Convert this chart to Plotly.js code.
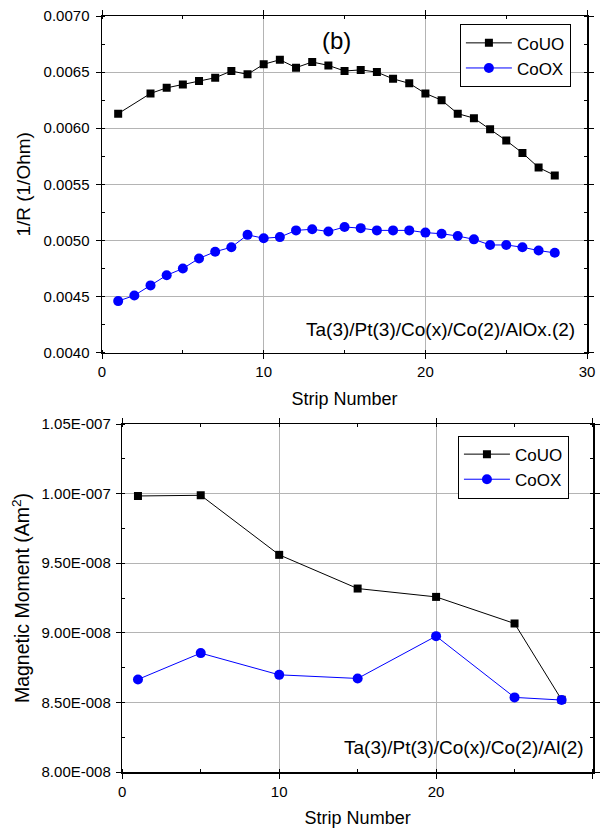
<!DOCTYPE html>
<html>
<head>
<meta charset="utf-8">
<script src="https://cdn.plot.ly/plotly-3.0.1.min.js"></script>
<style>html,body{margin:0;padding:0;background:#fff;}#chart{width:600px;height:832px;}</style>
</head>
<body>
<div id="chart"></div>
<script>
// Top panel (b): 1/R vs strip number
const stripUO = [1,3,4,5,6,7,8,9,10,11,12,13,14,15,16,17,18,19,20,21,22,23,24,25,26,27,28];
const invR_UO = [0.00613,0.00631,0.00636,0.00639,0.00642,0.00645,0.00651,0.00648,0.00657,0.00661,0.00654,0.00659,0.00656,0.00651,0.00652,0.00650,0.00644,0.00640,0.00631,0.00625,0.00613,0.00609,0.00599,0.00589,0.00578,0.00565,0.00558];
const stripOX = [1,2,3,4,5,6,7,8,9,10,11,12,13,14,15,16,17,18,19,20,21,22,23,24,25,26,27,28];
const invR_OX = [0.00446,0.00451,0.00460,0.00469,0.00475,0.00484,0.00490,0.00494,0.00505,0.00502,0.00503,0.00509,0.00510,0.00508,0.00512,0.00511,0.00509,0.00509,0.00509,0.00507,0.00506,0.00504,0.00501,0.00496,0.00496,0.00494,0.00491,0.00489];

// Bottom panel: magnetic moment vs strip number
const stripMM = [1,5,10,15,20,25,28];
const mm_UO = [9.983e-8,9.988e-8,9.56e-8,9.318e-8,9.258e-8,9.067e-8,8.519e-8];
const mm_OX = [8.665e-8,8.854e-8,8.698e-8,8.672e-8,8.976e-8,8.536e-8,8.517e-8];

const mmTickVals = [8.0e-8,8.5e-8,9.0e-8,9.5e-8,1.0e-7,1.05e-7];
const mmTickText = ["8.00E-008","8.50E-008","9.00E-008","9.50E-008","1.00E-007","1.05E-007"];

const seriesNames = ["CoUO","CoOX"];
const topLabel = "Ta(3)/Pt(3)/Co(x)/Co(2)/AlOx.(2)";
const botLabel = "Ta(3)/Pt(3)/Co(x)/Co(2)/Al(2)";

const FONT = "Liberation Sans, Arial, sans-serif";

const traces = [
  {x: stripUO, y: invR_UO, name: seriesNames[0], mode:'lines+markers', xaxis:'x', yaxis:'y', legend:'legend',
   line:{color:'#000', width:1}, marker:{symbol:'square', size:8, color:'#000'}},
  {x: stripOX, y: invR_OX, name: seriesNames[1], mode:'lines+markers', xaxis:'x', yaxis:'y', legend:'legend',
   line:{color:'#0000ff', width:1}, marker:{symbol:'circle', size:10, color:'#0000ff'}},
  {x: stripMM, y: mm_UO, name: seriesNames[0], mode:'lines+markers', xaxis:'x2', yaxis:'y2', legend:'legend2',
   line:{color:'#000', width:1}, marker:{symbol:'square', size:8, color:'#000'}},
  {x: stripMM, y: mm_OX, name: seriesNames[1], mode:'lines+markers', xaxis:'x2', yaxis:'y2', legend:'legend2',
   line:{color:'#0000ff', width:1}, marker:{symbol:'circle', size:10, color:'#0000ff'}}
];

const axCommon = {
  showline:true, linecolor:'#000', linewidth:1.5, mirror:'allticks',
  ticks:'outside', ticklen:5, tickwidth:1, tickcolor:'#000',
  showgrid:true, gridcolor:'#b4b4b4', gridwidth:1, zeroline:false,
  tickfont:{family:FONT, size:15, color:'#000'},
  minor:{ticks:'inside', ticklen:3, tickcolor:'#000', showgrid:false}
};

const layout = {
  width:600, height:832,
  margin:{l:102, r:7, t:16, b:60},
  paper_bgcolor:'#fff', plot_bgcolor:'#fff',
  font:{family:FONT, color:'#000'},
  showlegend:true,
  xaxis: Object.assign({}, axCommon, {domain:[0,0.988], anchor:'y', range:[0,30], dtick:10, tick0:0,
    minor:Object.assign({}, axCommon.minor, {dtick:5}),
    title:{text:'Strip Number', font:{family:FONT, size:18}, standoff:13}}),
  yaxis: Object.assign({}, axCommon, {domain:[0.5546,1], anchor:'x', range:[0.004,0.007], dtick:0.0005, tick0:0.004,
    tickformat:'.4f', ticklabelstandoff:3, minor:Object.assign({}, axCommon.minor, {dtick:0.00025}),
    title:{text:'1/R (1/Ohm)', font:{family:FONT, size:19}, standoff:8}}),
  xaxis2: Object.assign({}, axCommon, {domain:[0.0413,1], anchor:'y2', range:[0,30], dtick:10, tick0:0,
    minor:Object.assign({}, axCommon.minor, {dtick:5}),
    title:{text:'Strip Number', font:{family:FONT, size:18}, standoff:13}}),
  yaxis2: Object.assign({}, axCommon, {domain:[0,0.4603], anchor:'x2', range:[8e-8,1.05e-7],
    tickmode:'array', tickvals:mmTickVals, ticktext:mmTickText, ticklabelstandoff:2,
    minor:Object.assign({}, axCommon.minor, {tickmode:'linear', tick0:8e-8, dtick:0.25e-8}),
    title:{text:'Magnetic Moment (Am<sup>2</sup>)', font:{family:FONT, size:19.5}, standoff:6}}),
  legend:{x:0.955, y:0.989, xref:'paper', yref:'paper', xanchor:'right', yanchor:'top',
    bordercolor:'#000', borderwidth:1, bgcolor:'#fff', font:{family:FONT, size:17},
    tracegroupgap:0, itemwidth:46},
  legend2:{x:0.951, y:0.445, xref:'paper', yref:'paper', xanchor:'right', yanchor:'top',
    bordercolor:'#000', borderwidth:1, bgcolor:'#fff', font:{family:FONT, size:17},
    tracegroupgap:0, itemwidth:46},
  annotations:[
    {text:'(b)', x:14.5, y:0.00678, xref:'x', yref:'y', showarrow:false, font:{family:FONT, size:24, color:'#000'}},
    {text:topLabel, x:0.98, xref:'x domain', y:0.07, yref:'y domain', xanchor:'right', yanchor:'middle', showarrow:false, font:{family:FONT, size:19, color:'#000'}},
    {text:botLabel, x:0.985, xref:'x2 domain', y:0.07, yref:'y2 domain', xanchor:'right', yanchor:'middle', showarrow:false, font:{family:FONT, size:19, color:'#000'}}
  ]
};

Plotly.newPlot('chart', traces, layout, {displayModeBar:false, staticPlot:true});
</script>
</body>
</html>
